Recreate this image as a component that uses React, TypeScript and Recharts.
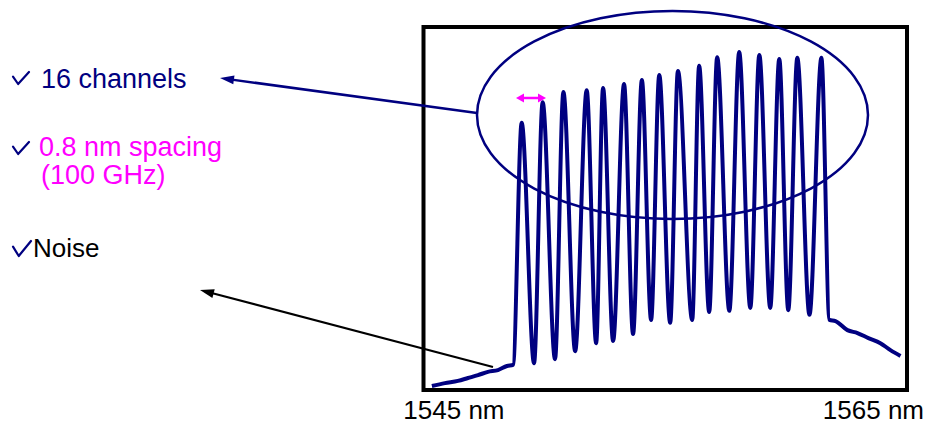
import { LineChart, Line, XAxis, YAxis, ReferenceArea } from 'recharts'

// wavelength (nm) / relative power
const leftNoiseNm = [1543.95, 1544.57, 1545.19, 1545.67, 1546.15, 1546.62, 1547.1, 1547.53, 1547.82]
const leftNoiseLevel = [1.1, 1.9, 2.5, 3.3, 4.1, 5.0, 5.5, 6.6, 6.9]

const peakNm = [
  1548.23, 1549.23, 1550.22, 1551.33, 1552.11, 1553.11, 1553.96, 1554.79,
  1555.68, 1556.69, 1557.55, 1558.6, 1559.56, 1560.51, 1561.37, 1562.52,
]
const peakLevel = [73.6, 79.3, 82.1, 82.6, 83.2, 84.3, 85.4, 86.8, 87.9, 89.3, 91.7, 93.1, 92.3, 91.2, 91.5, 91.5]

const troughNm = [
  1548.82, 1549.82, 1550.78, 1551.78, 1552.59, 1553.54, 1554.4, 1555.31,
  1556.36, 1557.17, 1558.13, 1559.13, 1560.08, 1560.94, 1561.95,
]
const troughLevel = [7.4, 8.5, 10.7, 12.9, 13.5, 15.4, 19.3, 18.5, 19.3, 21.5, 21.8, 22.6, 22.6, 22.0, 20.7]

const rightNoiseNm = [1562.9, 1563.19, 1563.76, 1564.24, 1564.76, 1565.33, 1565.81, 1566.29]
const rightNoiseLevel = [19.3, 19.0, 16.5, 15.7, 14.3, 12.9, 11.0, 9.4]

const xTicks = [1545, 1565]
const xDomain: [number, number] = [1543.55, 1566.6]

const data = [
  ...leftNoiseNm.map((nm, i) => ({ nm, level: leftNoiseLevel[i] })),
  ...peakNm.map((nm, i) => ({ nm, level: peakLevel[i] })),
  ...troughNm.map((nm, i) => ({ nm, level: troughLevel[i] })),
  ...rightNoiseNm.map((nm, i) => ({ nm, level: rightNoiseLevel[i] })),
].sort((a, b) => a.nm - b.nm)

const NAVY = '#000080'
const PINK = '#ff00ff'
const FONT = '"Liberation Sans", Arial, sans-serif'

// arrow head polygon pointing at (tx, ty) coming from (fx, fy)
function head(fx: number, fy: number, tx: number, ty: number, len: number, half: number) {
  const d = Math.hypot(tx - fx, ty - fy)
  const ux = (tx - fx) / d
  const uy = (ty - fy) / d
  const bx = tx - ux * len
  const by = ty - uy * len
  return `${tx},${ty} ${bx - uy * half},${by + ux * half} ${bx + uy * half},${by - ux * half}`
}

function Arrow({ fx, fy, tx, ty, color, width, len = 14, half = 4.5 }: {
  fx: number; fy: number; tx: number; ty: number; color: string; width: number; len?: number; half?: number
}) {
  const d = Math.hypot(tx - fx, ty - fy)
  const ex = tx - ((tx - fx) / d) * (len - 2)
  const ey = ty - ((ty - fy) / d) * (len - 2)
  return (
    <g>
      <line x1={fx} y1={fy} x2={ex} y2={ey} stroke={color} strokeWidth={width} />
      <polygon points={head(fx, fy, tx, ty, len, half)} fill={color} />
    </g>
  )
}

// hand-drawn style tick mark
function Check({ x, y, w = 16, h = 12 }: { x: number; y: number; w?: number; h?: number }) {
  return (
    <path
      d={`M${x},${y + h * 0.38} L${x + w * 0.32},${y + h} L${x + w},${y}`}
      fill="none"
      stroke={NAVY}
      strokeWidth={2.2}
      strokeLinejoin="round"
      strokeLinecap="round"
    />
  )
}

export default function App() {
  return (
    <div style={{ position: 'absolute', left: 0, top: 0, width: 925, height: 424, background: '#fff' }}>
      <LineChart width={925} height={424} data={data} margin={{ top: 27, right: 18, bottom: 0, left: 423.5 }}>
        <XAxis
          type="number"
          dataKey="nm"
          domain={xDomain}
          allowDataOverflow
          ticks={xTicks}
          tickFormatter={(v) => `${v} nm`}
          axisLine={false}
          tickLine={false}
          height={34}
          tickMargin={5}
          tick={{ fontSize: 26, fill: '#000', fontFamily: FONT }}
        />
        <YAxis type="number" domain={[0, 100]} hide allowDataOverflow />
        <ReferenceArea
          x1={xDomain[0]}
          x2={xDomain[1]}
          y1={0}
          y2={100}
          fill="none"
          stroke="#000"
          strokeWidth={4}
          ifOverflow="visible"
        />
        <Line
          type="monotone"
          dataKey="level"
          stroke={NAVY}
          strokeWidth={4}
          dot={false}
          isAnimationActive={false}
        />
      </LineChart>

      <svg
        width={925}
        height={424}
        style={{ position: 'absolute', left: 0, top: 0, pointerEvents: 'none' }}
      >
        <ellipse cx={672.5} cy={115} rx={195.5} ry={104} fill="none" stroke={NAVY} strokeWidth={2.5} />
        <Arrow fx={477} fy={113} tx={220} ty={78} color={NAVY} width={2.5} />
        <Arrow fx={493} fy={367} tx={200} ty={290} color="#000" width={2.2} />
        <line x1={522} y1={98} x2={540} y2={98} stroke={PINK} strokeWidth={2.5} />
        <polygon points={head(531, 98, 546, 98, 8, 4.5)} fill={PINK} />
        <polygon points={head(531, 98, 516, 98, 8, 4.5)} fill={PINK} />

        <Check x={13} y={72} />
        <Check x={13} y={142} />
        <Check x={13} y={241} w={18} h={15} />

        <g fontFamily={FONT} fontSize={27}>
          <text x={41} y={88} fill={NAVY}>16 channels</text>
          <text x={39} y={156} fill={PINK}>0.8 nm spacing</text>
          <text x={41} y={184} fill={PINK}>(100 GHz)</text>
          <text x={33} y={257} fill="#000" fontSize={26}>Noise</text>
        </g>
      </svg>
    </div>
  )
}
